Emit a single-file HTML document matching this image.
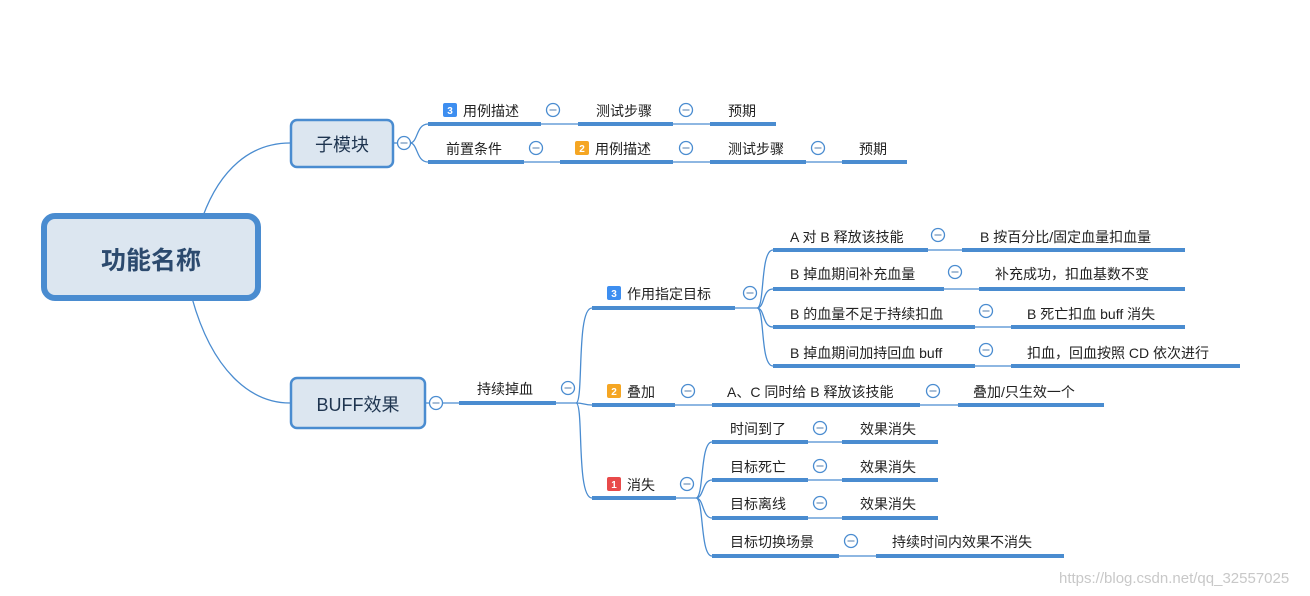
<!DOCTYPE html>
<html><head><meta charset="utf-8"><style>
html,body{margin:0;padding:0;background:#fff;}
svg{display:block;}
text{font-family:"Liberation Sans","Noto Sans CJK SC",sans-serif;fill:#222;font-size:14px;}
.b{stroke:#4a8cd0;stroke-width:4;fill:none;}
.l{stroke:#4a8cd0;stroke-width:1.3;fill:none;}
.c{fill:#fff;stroke:#4a8cd0;stroke-width:1.3;}
.cm{stroke:#7a9cc0;stroke-width:1.3;}
</style></head><body>
<svg width="1310" height="596" viewBox="0 0 1310 596">
<defs>
<g id="col"><circle class="c" r="6.5"/><line class="cm" x1="-3.5" y1="0" x2="3.5" y2="0"/></g>
</defs>
<path class="l" d="M203,216 C220,170 250,143 290,143"/>
<path class="l" d="M192,298 C212,370 250,403 290,403"/>
<rect x="44" y="216" width="214" height="82" rx="11" fill="#dce6f0" stroke="#4a8cd0" stroke-width="6"/>
<text x="151" y="269" text-anchor="middle" style="font-size:25px;font-weight:bold;fill:#2c4a6e">功能名称</text>
<rect x="291" y="120" width="102" height="47" rx="6" fill="#dce6f0" stroke="#4a8cd0" stroke-width="2.5"/>
<text x="342" y="151" text-anchor="middle" style="font-size:18px;fill:#1f3550">子模块</text>
<rect x="291" y="378" width="134" height="50" rx="6" fill="#dce6f0" stroke="#4a8cd0" stroke-width="2.5"/>
<text x="358" y="411" text-anchor="middle" style="font-size:18px;fill:#1f3550">BUFF效果</text>

<line class="l" x1="394" y1="143" x2="398" y2="143"/>
<use href="#col" x="404" y="143"/>
<path class="l" d="M410,143 C418,143 416,124 428,124 M410,143 C418,143 416,162 428,162"/>
<line class="b" x1="428" y1="124" x2="541" y2="124"/>
<line class="l" x1="541" y1="124" x2="578" y2="124"/>
<line class="b" x1="578" y1="124" x2="673" y2="124"/>
<line class="l" x1="673" y1="124" x2="710" y2="124"/>
<line class="b" x1="710" y1="124" x2="776" y2="124"/>
<rect x="443" y="103" width="14" height="14" rx="2" fill="#3d8ef0"/><text x="450" y="114" text-anchor="middle" style="font-size:10px;fill:#fff;font-weight:bold">3</text>
<text x="463" y="116">用例描述</text>
<use href="#col" x="553" y="110"/>
<text x="596" y="116">测试步骤</text>
<use href="#col" x="686" y="110"/>
<text x="728" y="116">预期</text>

<line class="b" x1="428" y1="162" x2="524" y2="162"/>
<line class="l" x1="524" y1="162" x2="560" y2="162"/>
<line class="b" x1="560" y1="162" x2="673" y2="162"/>
<line class="l" x1="673" y1="162" x2="710" y2="162"/>
<line class="b" x1="710" y1="162" x2="806" y2="162"/>
<line class="l" x1="806" y1="162" x2="842" y2="162"/>
<line class="b" x1="842" y1="162" x2="907" y2="162"/>
<text x="446" y="154">前置条件</text>
<use href="#col" x="536" y="148"/>
<rect x="575" y="141" width="14" height="14" rx="2" fill="#f5a623"/><text x="582" y="152" text-anchor="middle" style="font-size:10px;fill:#fff;font-weight:bold">2</text>
<text x="595" y="154">用例描述</text>
<use href="#col" x="686" y="148"/>
<text x="728" y="154">测试步骤</text>
<use href="#col" x="818" y="148"/>
<text x="859" y="154">预期</text>

<line class="l" x1="426" y1="403" x2="459" y2="403"/>
<use href="#col" x="436" y="403"/>
<line class="b" x1="459" y1="403" x2="556" y2="403"/>
<text x="477" y="394">持续掉血</text>
<line class="l" x1="556" y1="403" x2="576" y2="403"/>
<use href="#col" x="568" y="388"/>
<path class="l" d="M576,403 C584,403 576,308 592,308 M576,403 C584,403 584,405 592,405 M576,403 C584,403 576,498 592,498"/>

<line class="b" x1="592" y1="308" x2="735" y2="308"/>
<rect x="607" y="286" width="14" height="14" rx="2" fill="#3d8ef0"/><text x="614" y="297" text-anchor="middle" style="font-size:10px;fill:#fff;font-weight:bold">3</text>
<text x="627" y="299">作用指定目标</text>
<line class="l" x1="735" y1="308" x2="757" y2="308"/>
<use href="#col" x="750" y="293"/>
<path class="l" d="M757,308 C765,308 760,250 773,250 M757,308 C765,308 762,289 773,289 M757,308 C765,308 762,327 773,327 M757,308 C765,308 760,366 773,366"/>

<line class="b" x1="773" y1="250" x2="928" y2="250"/><line class="l" x1="928" y1="250" x2="962" y2="250"/><line class="b" x1="962" y1="250" x2="1185" y2="250"/>
<text x="790" y="242">A 对 B 释放该技能</text><use href="#col" x="938" y="235"/><text x="980" y="242">B 按百分比/固定血量扣血量</text>

<line class="b" x1="773" y1="289" x2="944" y2="289"/><line class="l" x1="944" y1="289" x2="979" y2="289"/><line class="b" x1="979" y1="289" x2="1185" y2="289"/>
<text x="790" y="279">B 掉血期间补充血量</text><use href="#col" x="955" y="272"/><text x="995" y="279">补充成功，扣血基数不变</text>

<line class="b" x1="773" y1="327" x2="975" y2="327"/><line class="l" x1="975" y1="327" x2="1011" y2="327"/><line class="b" x1="1011" y1="327" x2="1185" y2="327"/>
<text x="790" y="319">B 的血量不足于持续扣血</text><use href="#col" x="986" y="311"/><text x="1027" y="319">B 死亡扣血 buff 消失</text>

<line class="b" x1="773" y1="366" x2="975" y2="366"/><line class="l" x1="975" y1="366" x2="1011" y2="366"/><line class="b" x1="1011" y1="366" x2="1240" y2="366"/>
<text x="790" y="358">B 掉血期间加持回血 buff</text><use href="#col" x="986" y="350"/><text x="1027" y="358">扣血，回血按照 CD 依次进行</text>

<line class="b" x1="592" y1="405" x2="675" y2="405"/><line class="l" x1="675" y1="405" x2="712" y2="405"/><line class="b" x1="712" y1="405" x2="920" y2="405"/><line class="l" x1="920" y1="405" x2="958" y2="405"/><line class="b" x1="958" y1="405" x2="1104" y2="405"/>
<rect x="607" y="384" width="14" height="14" rx="2" fill="#f5a623"/><text x="614" y="395" text-anchor="middle" style="font-size:10px;fill:#fff;font-weight:bold">2</text>
<text x="627" y="397">叠加</text><use href="#col" x="688" y="391"/>
<text x="727" y="397">A、C 同时给 B 释放该技能</text><use href="#col" x="933" y="391"/>
<text x="973" y="397">叠加/只生效一个</text>

<line class="b" x1="592" y1="498" x2="676" y2="498"/>
<rect x="607" y="477" width="14" height="14" rx="2" fill="#e84a4a"/><text x="614" y="488" text-anchor="middle" style="font-size:10px;fill:#fff;font-weight:bold">1</text>
<text x="627" y="490">消失</text>
<line class="l" x1="676" y1="498" x2="696" y2="498"/>
<use href="#col" x="687" y="484"/>
<path class="l" d="M696,498 C704,498 700,442 712,442 M696,498 C704,498 702,480 712,480 M696,498 C704,498 702,518 712,518 M696,498 C704,498 700,556 712,556"/>

<line class="b" x1="712" y1="442" x2="808" y2="442"/><line class="l" x1="808" y1="442" x2="842" y2="442"/><line class="b" x1="842" y1="442" x2="938" y2="442"/>
<text x="730" y="434">时间到了</text><use href="#col" x="820" y="428"/><text x="860" y="434">效果消失</text>
<line class="b" x1="712" y1="480" x2="808" y2="480"/><line class="l" x1="808" y1="480" x2="842" y2="480"/><line class="b" x1="842" y1="480" x2="938" y2="480"/>
<text x="730" y="472">目标死亡</text><use href="#col" x="820" y="466"/><text x="860" y="472">效果消失</text>
<line class="b" x1="712" y1="518" x2="808" y2="518"/><line class="l" x1="808" y1="518" x2="842" y2="518"/><line class="b" x1="842" y1="518" x2="938" y2="518"/>
<text x="730" y="509">目标离线</text><use href="#col" x="820" y="503"/><text x="860" y="509">效果消失</text>
<line class="b" x1="712" y1="556" x2="839" y2="556"/><line class="l" x1="839" y1="556" x2="876" y2="556"/><line class="b" x1="876" y1="556" x2="1064" y2="556"/>
<text x="730" y="547">目标切换场景</text><use href="#col" x="851" y="541"/><text x="892" y="547">持续时间内效果不消失</text>

<text x="1059" y="583" style="font-size:15px;fill:#c8c8c8">https://blog.csdn.net/qq_32557025</text>
</svg>
</body></html>
